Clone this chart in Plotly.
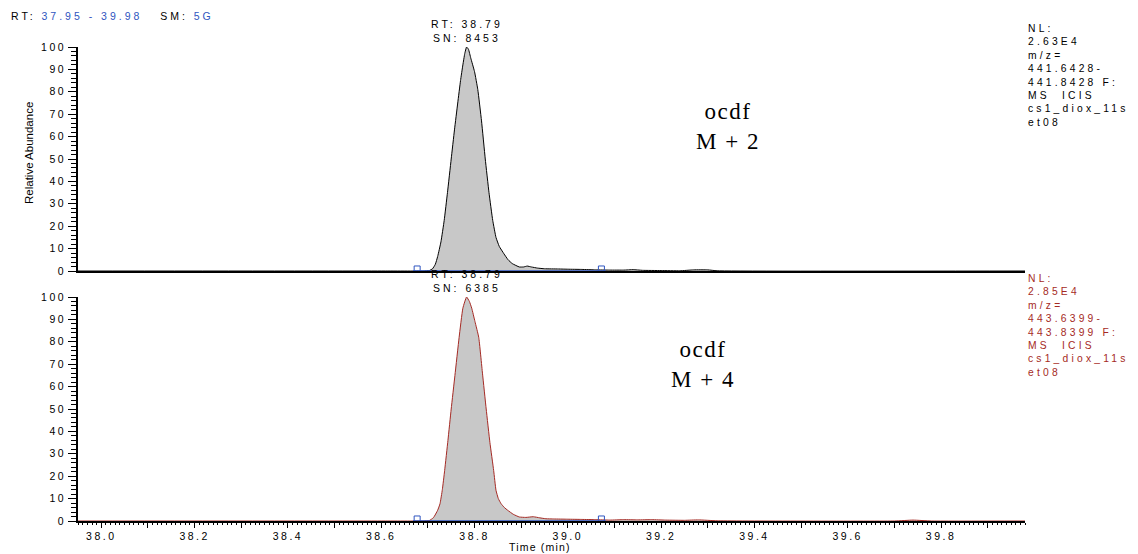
import plotly.graph_objects as go

# ---------------- data ----------------
time_m2 = [37.95, 38.60, 38.69, 38.703, 38.710, 38.716, 38.721, 38.728, 38.735, 38.742,
           38.750, 38.757, 38.764, 38.770, 38.775, 38.779, 38.783, 38.787, 38.792, 38.800,
           38.807, 38.815, 38.823, 38.831, 38.839, 38.846, 38.853, 38.863, 38.872, 38.881,
           38.896, 38.905, 38.913, 38.922, 38.935, 38.95, 38.98, 39.00, 39.03, 39.06,
           39.09, 39.12, 39.14, 39.16, 39.20, 39.24, 39.27, 39.30, 39.32, 39.98]
abund_m2 = [0, 0, 0, 0.2, 1.0, 3.0, 6.5, 13, 22.6, 35,
            50, 63, 75, 85, 92, 97, 100, 99, 95, 89,
            81, 67, 50, 35, 22.6, 15, 11, 7.7, 5.0, 3.3,
            1.8, 1.8, 2.2, 1.8, 1.3, 1.0, 0.9, 0.8, 0.7, 0.5,
            0.4, 0.4, 0.6, 0.3, 0.2, 0.1, 0.5, 0.5, 0.1, 0]

time_m4 = [37.95, 38.60, 38.69, 38.703, 38.712, 38.721, 38.726, 38.731, 38.736, 38.743,
           38.750, 38.758, 38.767, 38.775, 38.783, 38.789, 38.794, 38.801, 38.809, 38.817,
           38.825, 38.833, 38.841, 38.846, 38.851, 38.857, 38.864, 38.871, 38.883, 38.896,
           38.910, 38.926, 38.940, 38.953, 38.97, 39.00, 39.03, 39.06, 39.09, 39.12,
           39.15, 39.18, 39.21, 39.25, 39.28, 39.32, 39.70, 39.74, 39.78, 39.98]
abund_m4 = [0, 0, 0, 0.2, 1.5, 4.8, 7.7, 14, 22.6, 36,
            50, 65, 82, 95, 100, 98, 95, 89, 82, 66,
            50, 35, 22.6, 13.7, 10, 7.7, 6.0, 4.8, 3.0, 1.8,
            1.6, 1.9, 1.4, 1.0, 0.9, 0.8, 0.7, 0.6, 0.4, 0.6,
            0.5, 0.6, 0.4, 0.3, 0.5, 0.1, 0, 0.4, 0, 0]

integration_window = [38.668, 39.081]

peak_labels_m2 = ["RT: 38.79", "SN: 8453"]
peak_labels_m4 = ["RT: 38.79", "SN: 6385"]
info_m2 = ["NL:", "2.63E4", "m/z=", "441.6428-", "441.8428 F:", "MS  ICIS", "cs1_diox_11s", "et08"]
info_m4 = ["NL:", "2.85E4", "m/z=", "443.6399-", "443.8399 F:", "MS  ICIS", "cs1_diox_11s", "et08"]
compound_m2 = ["ocdf", "M + 2"]
compound_m4 = ["ocdf", "M + 4"]
x_title = "Time (min)"
y_title = "Relative Abundance"

y_ticks = list(range(0, 101, 10))
x_ticks = [round(38.0 + 0.1 * i, 1) for i in range(20)]
x_ticktext = [f"{v:.1f}" if i % 2 == 0 else "" for i, v in enumerate(x_ticks)]
x_range = [37.95, 39.98]

# ---------------- style ----------------
W, H = 1138, 554
L, R, T, B = 78, 1025, 40, 521
SANS = "Liberation Sans"
SERIF = "Liberation Serif"
BLUE = "#2f55c0"
RED = "#a52a24"
GRAY = "#c8c8c8"


def px(xp):
    return (xp - L) / (R - L)


def py(yp):
    return (B - yp) / (B - T)


def sp(text, ls=3):
    return f'<span style="letter-spacing:{ls}px">{text}</span>'


fig = go.Figure()

# top panel (M+2)
fig.add_trace(go.Scatter(x=time_m2, y=abund_m2, mode="lines", fill="tozeroy",
                         fillcolor=GRAY, line=dict(color="black", width=1, shape="spline", smoothing=0.4),
                         xaxis="x", yaxis="y", hoverinfo="skip"))
fig.add_trace(go.Scatter(x=integration_window, y=[0, 0], mode="lines",
                         line=dict(color=BLUE, width=1.5), xaxis="x", yaxis="y", hoverinfo="skip"))
fig.add_trace(go.Scatter(x=[integration_window[0] + 0.009, integration_window[1] - 0.009], y=[0.9, 0.9],
                         mode="markers", marker=dict(symbol="square-open", size=6, color=BLUE, line=dict(width=1)),
                         xaxis="x", yaxis="y", hoverinfo="skip"))

# bottom panel (M+4)
fig.add_trace(go.Scatter(x=time_m4, y=abund_m4, mode="lines", fill="tozeroy",
                         fillcolor=GRAY, line=dict(color=RED, width=1, shape="spline", smoothing=0.4),
                         xaxis="x2", yaxis="y2", hoverinfo="skip"))
fig.add_trace(go.Scatter(x=integration_window, y=[0, 0], mode="lines",
                         line=dict(color=BLUE, width=1.5), xaxis="x2", yaxis="y2", hoverinfo="skip"))
fig.add_trace(go.Scatter(x=[integration_window[0] + 0.009, integration_window[1] - 0.009], y=[0.9, 0.9],
                         mode="markers", marker=dict(symbol="square-open", size=6, color=BLUE, line=dict(width=1)),
                         xaxis="x2", yaxis="y2", hoverinfo="skip"))

yax_common = dict(range=[0, 100], tickvals=y_ticks, ticktext=[sp(str(v), 2.5) for v in y_ticks],
                  ticks="outside", ticklen=8, tickwidth=1, tickcolor="black",
                  minor=dict(dtick=2, ticklen=5, tickwidth=1, tickcolor="black", ticks="outside"),
                  showline=True, linecolor="black", linewidth=1.5, showgrid=False, zeroline=False,
                  tickfont=dict(family=SANS, size=10.5, color="black"), fixedrange=True, automargin=False)

fig.update_layout(
    width=W, height=H,
    margin=dict(l=L, r=W - R, t=T, b=H - B),
    paper_bgcolor="white", plot_bgcolor="white",
    showlegend=False,
    xaxis=dict(domain=[0, 1], range=x_range, anchor="y", showline=True, linecolor="black", linewidth=2,
               showticklabels=False, ticks="", showgrid=False, zeroline=False, automargin=False),
    yaxis=dict(domain=[py(271), py(47)], anchor="x", **yax_common),
    xaxis2=dict(domain=[0, 1], range=x_range, anchor="y2", showline=True, linecolor="black", linewidth=1.5,
                tickvals=x_ticks, ticktext=[sp(t, 2.5) if t else "" for t in x_ticktext],
                ticks="outside", ticklen=5, tickwidth=1, tickcolor="black",
                minor=dict(dtick=0.01, tick0=38.0, ticklen=2, tickwidth=1, tickcolor="black", ticks="outside"),
                showgrid=False, zeroline=False, automargin=False,
                tickfont=dict(family=SANS, size=10.5, color="black")),
    yaxis2=dict(domain=[0, py(297)], anchor="x2", **yax_common),
)

ann = []
# header
ann.append(dict(xref="paper", yref="paper", x=px(9), y=py(16), xanchor="left", yanchor="middle",
                showarrow=False, align="left",
                text=sp("RT: ") + f'<span style="letter-spacing:3px;fill:{BLUE}">37.95 - 39.98</span>'
                     + sp("&nbsp;&nbsp; SM: ") + f'<span style="letter-spacing:3px;fill:{BLUE}">5G</span>',
                font=dict(family=SANS, size=10.5, color="black")))
# axis titles
ann.append(dict(xref="paper", yref="paper", x=px(29), y=py(153), xanchor="center", yanchor="middle",
                showarrow=False, textangle=-90, text=y_title,
                font=dict(family=SANS, size=11.5, color="black")))
ann.append(dict(xref="paper", yref="paper", x=px(540), y=py(547), xanchor="center", yanchor="middle",
                showarrow=False, text=sp(x_title, 1.2),
                font=dict(family=SANS, size=10.5, color="black")))

# peak labels
imax2 = abund_m2.index(max(abund_m2))
imax4 = abund_m4.index(max(abund_m4))
ann.append(dict(xref="x", yref="y", x=time_m2[imax2], y=abund_m2[imax2], yshift=1, xanchor="center",
                yanchor="bottom", showarrow=False, text="<br>".join(sp(t) for t in peak_labels_m2),
                font=dict(family=SANS, size=10.5, color="black")))
ann.append(dict(xref="x2", yref="y2", x=time_m4[imax4], y=abund_m4[imax4], yshift=1, xanchor="center",
                yanchor="bottom", showarrow=False, text="<br>".join(sp(t) for t in peak_labels_m4),
                font=dict(family=SANS, size=10.5, color="black")))

# info blocks
ann.append(dict(xref="paper", yref="paper", x=px(1026), y=py(21), xanchor="left", yanchor="top",
                showarrow=False, align="left", text="<br>".join(sp(t.replace("  ", "&nbsp; "), 3.2) for t in info_m2),
                font=dict(family=SANS, size=10.3, color="black")))
ann.append(dict(xref="paper", yref="paper", x=px(1026), y=py(271), xanchor="left", yanchor="top",
                showarrow=False, align="left", text="<br>".join(sp(t.replace("  ", "&nbsp; "), 3.2) for t in info_m4),
                font=dict(family=SANS, size=10.3, color=RED)))

# compound labels
ann.append(dict(xref="paper", yref="paper", x=px(728), y=py(126), xanchor="center", yanchor="middle",
                showarrow=False, text="<br>".join(sp(t, 1.5) for t in compound_m2),
                font=dict(family=SERIF, size=23, color="black")))
ann.append(dict(xref="paper", yref="paper", x=px(703), y=py(364), xanchor="center", yanchor="middle",
                showarrow=False, text="<br>".join(sp(t, 1.5) for t in compound_m4),
                font=dict(family=SERIF, size=23, color="black")))

fig.update_layout(annotations=ann)

fig.write_html("out.html", config={"displayModeBar": False})
